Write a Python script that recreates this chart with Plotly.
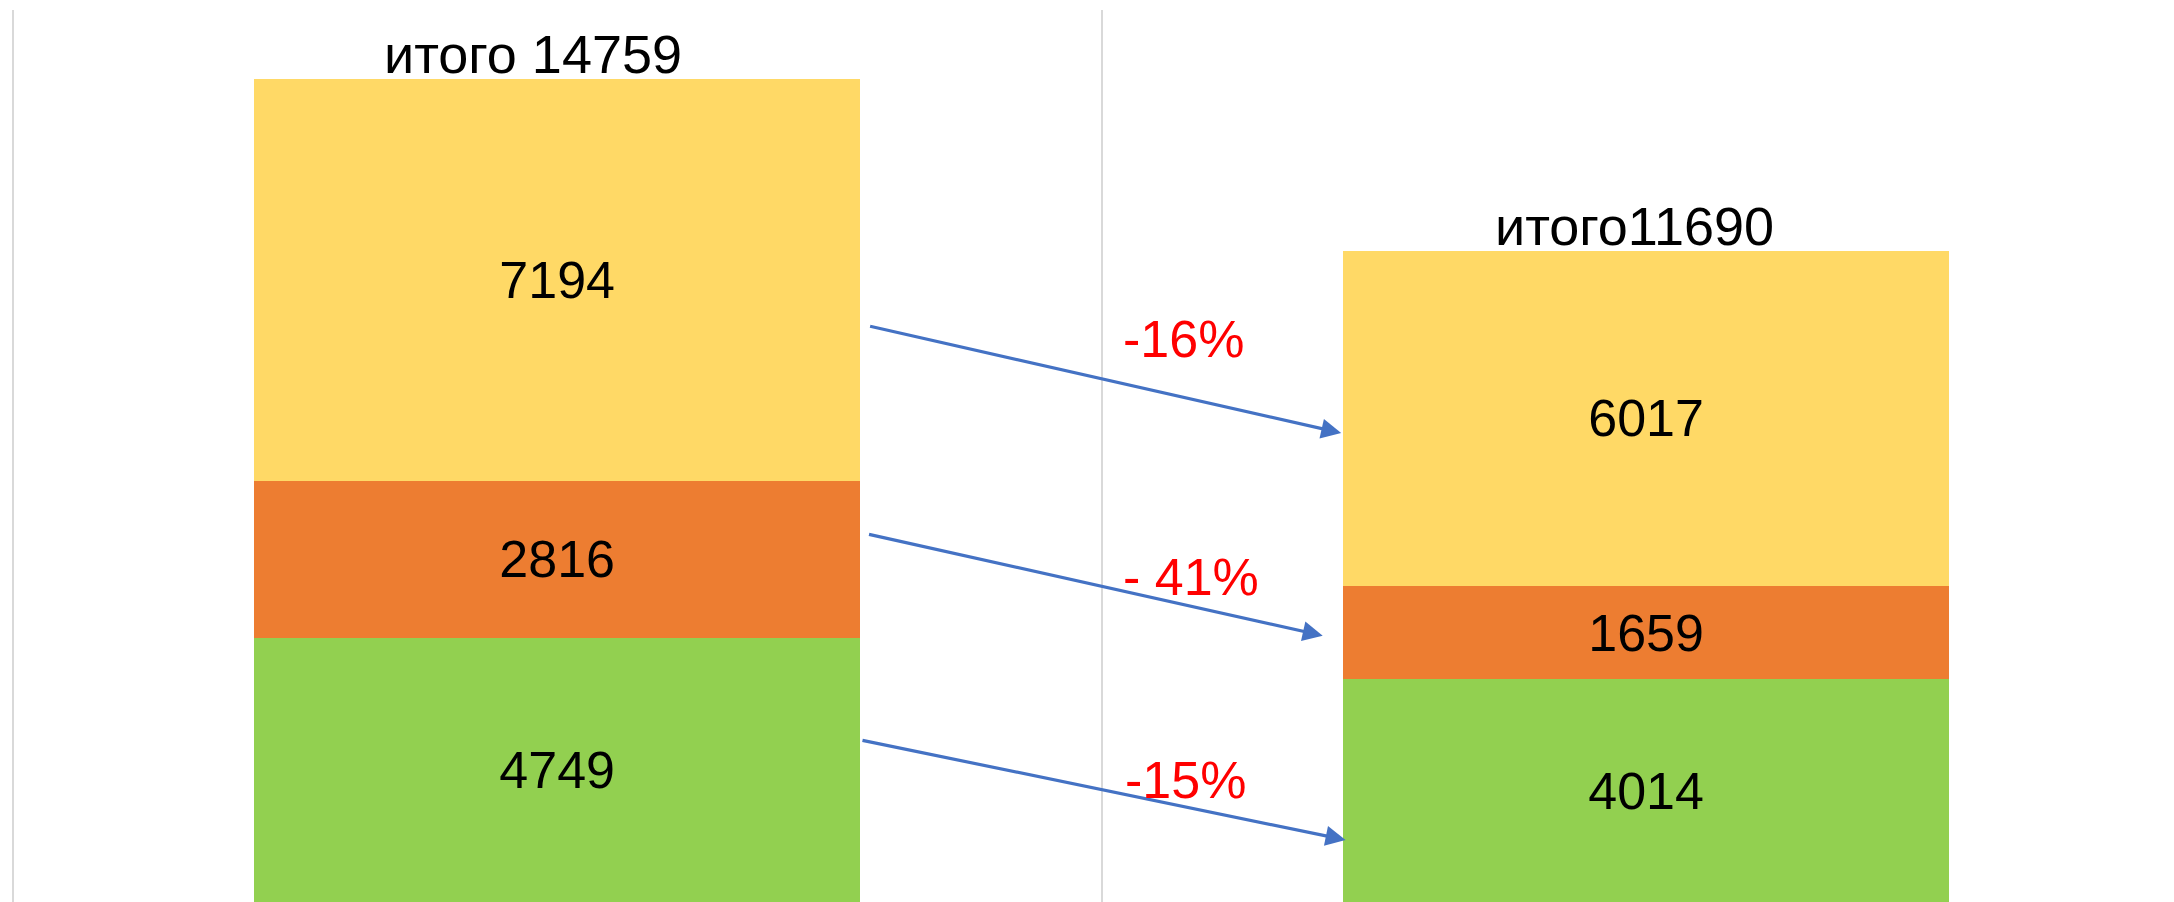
import plotly.graph_objects as go

categories = ["до", "после"]
green_vals = [4749, 4014]
orange_vals = [2816, 1659]
yellow_vals = [7194, 6017]
total_labels = ["итого 14759", "итого11690"]
change_labels = ["-16%", "- 41%", "-15%"]

# arrow positions in data coordinates: (x_start, y_start, x_end, y_end)
arrow_x0 = [0.286, 0.285, 0.279]
arrow_y0 = [10340, 6610, 2920]
arrow_x1 = [0.720, 0.703, 0.724]
arrow_y1 = [8420, 4790, 1130]
change_x = [0.575, 0.582, 0.577]
change_y = [10100, 5840, 2200]

FONT = "Liberation Sans, Arial, sans-serif"
xs = [0, 1]

fig = go.Figure()
for vals, col in [(green_vals, "#92D050"), (orange_vals, "#ED7D31"), (yellow_vals, "#FFD966")]:
    fig.add_trace(go.Bar(
        x=xs, y=vals, marker=dict(color=col, line=dict(width=0)),
        text=[str(v) for v in vals], textposition="inside", insidetextanchor="middle",
        textfont=dict(size=52, color="black", family=FONT), constraintext="none",
        showlegend=False, hoverinfo="skip",
    ))

totals = [g + o + y for g, o, y in zip(green_vals, orange_vals, yellow_vals)]
ann = []
for i, (t, lab) in enumerate(zip(totals, total_labels)):
    ann.append(dict(x=xs[i], y=t, xref="x", yref="y", text=lab, showarrow=False,
                    yanchor="bottom", xshift=-24 if i == 0 else -12, yshift=-7,
                    font=dict(size=54, color="black", family=FONT)))
for i in range(3):
    ann.append(dict(x=arrow_x1[i], y=arrow_y1[i], ax=arrow_x0[i], ay=arrow_y0[i],
                    xref="x", yref="y", axref="x", ayref="y", text="", showarrow=True,
                    arrowhead=2, arrowsize=1.25, arrowwidth=3.2, arrowcolor="#4472C4", standoff=0))
    ann.append(dict(x=change_x[i], y=change_y[i], xref="x", yref="y", text=change_labels[i],
                    showarrow=False, font=dict(size=52, color="#FF0000", family=FONT)))

fig.update_layout(
    barmode="stack", bargap=0.443,
    width=2174, height=902,
    margin=dict(l=0, r=0, t=2, b=7),
    paper_bgcolor="white", plot_bgcolor="white",
    annotations=ann,
    xaxis=dict(range=[-0.5043, 1.4921], tickvals=[-0.5, 0.5], showticklabels=False,
               showgrid=True, gridcolor="#D9D9D9", gridwidth=2, zeroline=False, showline=False,
               ticks=""),
    yaxis=dict(range=[0, 16000], showgrid=False, zeroline=False, showticklabels=False, showline=False),
)
fig.write_html("out.html")
